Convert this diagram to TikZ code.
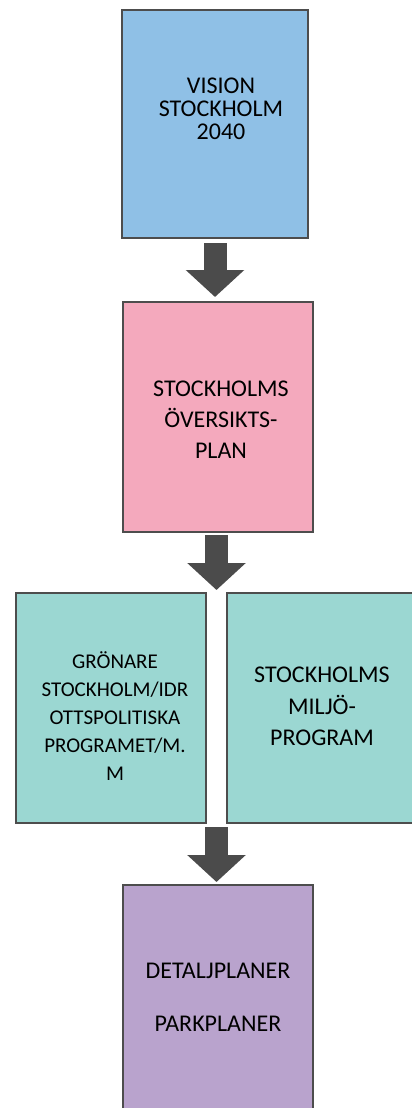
\documentclass[tikz,border=0pt]{standalone}
\usepackage{fontspec}
\setmainfont{Carlito}
\usetikzlibrary{arrows.meta,calc}
\definecolor{cblue}{HTML}{8FC0E6}
\definecolor{cpink}{HTML}{F4A9BD}
\definecolor{cteal}{HTML}{9BD7D2}
\definecolor{cpurple}{HTML}{B9A3CD}
\definecolor{cborder}{HTML}{4D4D4D}
\definecolor{carrow}{HTML}{4B4B4B}
\begin{document}
\begin{tikzpicture}[x=1pt,y=-1pt,
  box/.style={draw=cborder, line width=1.3pt, minimum width=190pt, minimum height=230pt, inner sep=0pt, outer sep=0pt},
  lbl/.style={font=\fontsize{24}{31}\selectfont, align=center, text=black, inner sep=0pt},
  barrow/.style={draw=carrow, line width=23pt, -{Triangle[width=57pt,length=27pt]}}
]
\useasboundingbox (0,0) rectangle (412,1108);
\clip (0,0) rectangle (412,1108);

\node[box, fill=cblue, minimum width=186pt, minimum height=228pt,
  label={[lbl, font=\fontsize{24}{23}\selectfont, xshift=6pt, yshift=15pt]center:{VISION\\STOCKHOLM\\2040}}]
  (vision) at (215,124) {};
\node[box, fill=cpink,
  label={[lbl, xshift=3pt, yshift=-3pt]center:{STOCKHOLMS\\ÖVERSIKTS-\\PLAN}}]
  (plan) at (218,417) {};
\node[box, fill=cteal,
  label={[lbl, font=\fontsize{21}{28}\selectfont, xshift=4pt, yshift=-8.5pt]center:{GRÖNARE\\STOCKHOLM/IDR\\OTTSPOLITISKA\\PROGRAMET/M.\\M}}]
  (green) at (111,708) {};
\node[box, fill=cteal,
  label={[lbl, font=\fontsize{24}{31.5}\selectfont, yshift=1.5pt]center:{STOCKHOLMS\\MILJÖ-\\PROGRAM}}]
  (miljo) at (322,708) {};
\node[box, fill=cpurple,
  label={[lbl, yshift=2.5pt]center:{DETALJPLANER\\[22pt]PARKPLANER}}]
  (detalj) at (218,1000) {};

\coordinate (gapN) at ($(green.north east)!0.5!(miljo.north west)$);
\coordinate (gapS) at ($(green.south east)!0.5!(miljo.south west)$);

\draw[barrow, shorten <=5pt, shorten >=5pt] (vision.south) -- (vision.south |- plan.north);
\draw[barrow, shorten <=3pt, shorten >=3pt] (plan.south -| gapN) -- (gapN);
\draw[barrow, shorten <=4pt, shorten >=3pt] (gapS) -- (gapS |- detalj.north);
\end{tikzpicture}
\end{document}
